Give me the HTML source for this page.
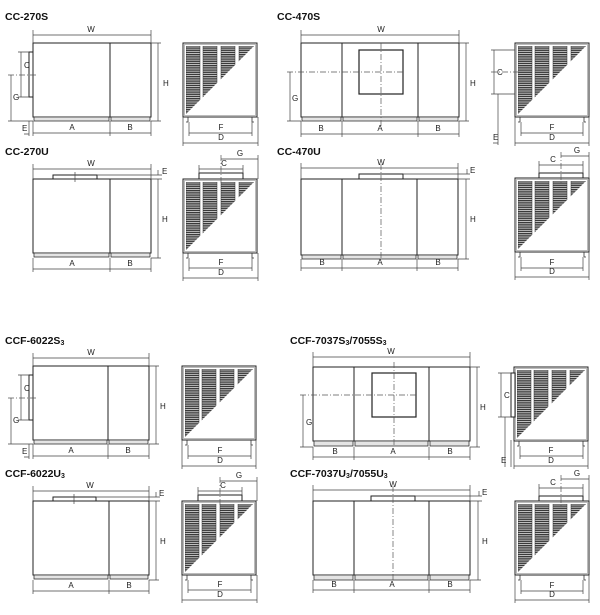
<!DOCTYPE html>
<html><head><meta charset="utf-8"><style>
html,body{margin:0;padding:0;background:#fff;}
svg{display:block;}
text{font-family:"Liberation Sans",sans-serif;font-size:8px;fill:#222;}
.t{font-size:10.5px;font-weight:bold;fill:#111;}
.b{fill:#fff;stroke:#222;stroke-width:1;}
.s{fill:#e4e4e4;stroke:#333;stroke-width:0.8;}
.d{stroke:#444;stroke-width:0.7;fill:none;}
.c{stroke:#555;stroke-width:0.7;fill:none;stroke-dasharray:6,2,1,2;}
</style></head><body>
<svg width="600" height="615" viewBox="0 0 600 615" xmlns="http://www.w3.org/2000/svg">
<defs>
<clipPath id="tri"><polygon points="3,71 3,3 71,3"/></clipPath>
<pattern id="lv" width="4" height="2.2" patternUnits="userSpaceOnUse"><rect width="4" height="2.2" fill="#ddd"/><rect width="4" height="1.4" fill="#3a3a3a"/></pattern>
<g id="side">
<rect x="0" y="0" width="74" height="74" fill="#fff" stroke="#222" stroke-width="1"/>
<rect x="1.5" y="1.5" width="71" height="71" fill="none" stroke="#bbb" stroke-width="1"/>
<g clip-path="url(#tri)">
<rect x="3" y="3" width="14" height="68" fill="url(#lv)" stroke="#333" stroke-width="0.5"/>
<rect x="20" y="3" width="14" height="68" fill="url(#lv)" stroke="#333" stroke-width="0.5"/>
<rect x="38" y="3" width="14" height="68" fill="url(#lv)" stroke="#333" stroke-width="0.5"/>
<rect x="56" y="3" width="15" height="68" fill="url(#lv)" stroke="#333" stroke-width="0.5"/>
</g>
<path d="M5,74 V79 M69,74 V79 M5,79 H3 M69,79 H71" stroke="#333" stroke-width="0.8" fill="none"/>
</g>
</defs>

<!-- ===== CC-270S ===== -->
<g id="d270s">
<text class="t" x="5" y="20">CC-270S</text>
<rect class="b" x="33" y="43" width="118" height="74"/>
<line class="d" x1="110" y1="43" x2="110" y2="117" style="stroke:#222;stroke-width:1"/>
<rect class="s" x="34" y="117" width="75" height="4"/><rect class="s" x="111" y="117" width="39" height="4"/>
<rect class="b" x="29" y="52" width="4" height="45"/>
<path class="d" d="M33,35 H151 M33,30 V43 M151,30 V43"/>
<text x="91" y="32" text-anchor="middle">W</text>
<path class="d" d="M151,43 H161 M151,121 H161 M158,43 V121"/>
<text x="163" y="86">H</text>
<path class="d" d="M18,52 H29 M18,97 H29 M21,52 V97"/>
<text x="24" y="68">C</text>
<path class="c" d="M8,75 H37"/>
<path class="d" d="M11,75 V121 M8,121 H33"/>
<text x="13" y="100">G</text>
<path class="d" d="M29,121 V136 M33,121 V136 M24,134 H29"/>
<text x="22" y="131">E</text>
<path class="d" d="M33,133 H151 M110,121 V136 M151,121 V136"/>
<text x="72" y="130" text-anchor="middle">A</text><text x="130" y="130" text-anchor="middle">B</text>
<use href="#side" x="183" y="43"/>
<path class="d" d="M189,122 V136 M252,122 V136 M189,133 H252 M183,117 V146 M258,117 V146 M183,143 H258"/>
<text x="221" y="130" text-anchor="middle">F</text><text x="221" y="140" text-anchor="middle">D</text>
</g>

<!-- ===== CC-270U ===== -->
<g id="d270u">
<text class="t" x="5" y="155">CC-270U</text>
<rect class="b" x="33" y="179" width="118" height="74"/>
<line x1="110" y1="179" x2="110" y2="253" stroke="#222" stroke-width="1"/>
<rect class="s" x="34" y="253" width="75" height="4"/><rect class="s" x="111" y="253" width="39" height="4"/>
<rect class="b" x="53" y="175" width="44" height="4"/>
<path class="d" d="M75,172 V182"/>
<path class="d" d="M33,169 H151 M33,164 V179 M151,164 V179"/>
<text x="91" y="166" text-anchor="middle">W</text>
<path class="d" d="M97,175 H162 M151,179 H162 M158,170 V175"/>
<text x="162" y="174">E</text>
<path class="d" d="M158,179 V258 M151,258 H161"/>
<text x="162" y="222">H</text>
<path class="d" d="M33,269 H151 M33,258 V272 M110,258 V272 M151,258 V272"/>
<text x="72" y="266" text-anchor="middle">A</text><text x="130" y="266" text-anchor="middle">B</text>
<use href="#side" x="183" y="179"/>
<rect class="b" x="199" y="173" width="44" height="6"/>
<path class="d" d="M199,169 H243 M199,165 V173 M243,165 V173 M221,159 H258 M258,155 V179"/>
<path class="c" d="M221,155 V185"/>
<text x="224" y="166" text-anchor="middle">C</text><text x="240" y="156" text-anchor="middle">G</text>
<path class="d" d="M189,258 V271 M252,258 V271 M189,268 H252 M183,253 V281 M258,253 V281 M183,278 H258"/>
<text x="221" y="265" text-anchor="middle">F</text><text x="221" y="275" text-anchor="middle">D</text>
</g>

<!-- ===== CC-470S ===== -->
<g>
<text class="t" x="277" y="20">CC-470S</text>
<rect class="b" x="301" y="43" width="158" height="74"/>
<path d="M342,43 V117 M418,43 V117" stroke="#222" stroke-width="1"/>
<rect class="s" x="302" y="117" width="39" height="4"/><rect class="s" x="343" y="117" width="74" height="4"/><rect class="s" x="419" y="117" width="39" height="4"/>
<rect x="359" y="50" width="44" height="44" fill="none" stroke="#222" stroke-width="1.2"/>
<path class="c" d="M381,43 V128 M287,72 H405"/>
<path class="d" d="M301,35 H459 M301,30 V43 M459,30 V43"/>
<text x="381" y="32" text-anchor="middle">W</text>
<path class="d" d="M459,43 H469 M459,121 H469 M466,43 V121"/>
<text x="470" y="86">H</text>
<path class="d" d="M290,72 V121 M287,121 H301"/>
<text x="292" y="101">G</text>
<path class="d" d="M301,134 H459 M301,121 V137 M342,121 V137 M418,121 V137 M459,121 V137"/>
<text x="321" y="131" text-anchor="middle">B</text><text x="380" y="131" text-anchor="middle">A</text><text x="438" y="131" text-anchor="middle">B</text>
<use href="#side" x="515" y="43"/>
<path class="d" d="M491,50 H515 M491,94 H515 M494,50 V94 M498,94 V145 M493,143 H498"/>
<path class="c" d="M491,72 H520"/>
<text x="497" y="75">C</text><text x="493" y="140">E</text>
<path class="d" d="M521,122 V136 M583,122 V136 M521,133 H583 M515,117 V146 M589,117 V146 M515,143 H589"/>
<text x="552" y="130" text-anchor="middle">F</text><text x="552" y="140" text-anchor="middle">D</text>
</g>

<!-- ===== CC-470U ===== -->
<g id="d470u">
<text class="t" x="277" y="155">CC-470U</text>
<g id="f470u">
<rect class="b" x="301" y="179" width="157" height="76"/>
<path d="M342,179 V255 M417,179 V255" stroke="#222" stroke-width="1"/>
<rect class="s" x="302" y="255" width="39" height="4"/><rect class="s" x="343" y="255" width="73" height="4"/><rect class="s" x="418" y="255" width="39" height="4"/>
<rect class="b" x="359" y="174" width="44" height="5"/>
<path class="c" d="M381,164 V259"/>
<path class="d" d="M301,168 H458 M301,163 V179 M458,163 V179"/>
<text x="381" y="165" text-anchor="middle">W</text>
<path class="d" d="M403,174 H470 M458,179 H470 M467,169 V174"/>
<text x="470" y="173">E</text>
<path class="d" d="M466,179 V259 M458,259 H469"/>
<text x="470" y="222">H</text>
<path class="d" d="M301,268 H458 M301,259 V271 M342,259 V271 M417,259 V271 M458,259 V271"/>
<text x="322" y="265" text-anchor="middle">B</text><text x="380" y="265" text-anchor="middle">A</text><text x="438" y="265" text-anchor="middle">B</text>
</g>
<g id="s470u">
<use href="#side" x="515" y="178"/>
<rect class="b" x="539" y="173" width="44" height="5"/>
<path class="d" d="M539,165 H583 M539,161 V173 M583,161 V173 M561,156 H589 M589,152 V178"/>
<path class="c" d="M561,152 V185"/>
<text x="553" y="162" text-anchor="middle">C</text><text x="577" y="153" text-anchor="middle">G</text>
<path class="d" d="M521,257 V271 M583,257 V271 M521,268 H583 M515,252 V280 M589,252 V280 M515,277 H589"/>
<text x="552" y="265" text-anchor="middle">F</text><text x="552" y="274" text-anchor="middle">D</text>
</g>
</g>

<!-- ===== CCF-6022S3 ===== -->
<g transform="translate(0,323)">
<text class="t" x="5" y="21">CCF-6022S<tspan font-size="7" dy="1">3</tspan></text>
<rect class="b" x="33" y="43" width="116" height="74"/>
<line x1="108" y1="43" x2="108" y2="117" stroke="#222" stroke-width="1"/>
<rect class="s" x="34" y="117" width="73" height="4"/><rect class="s" x="109" y="117" width="39" height="4"/>
<rect class="b" x="29" y="52" width="4" height="45"/>
<path class="d" d="M33,35 H149 M33,30 V43 M149,30 V43"/>
<text x="91" y="32" text-anchor="middle">W</text>
<path class="d" d="M149,43 H159 M149,121 H159 M156,43 V121"/>
<text x="160" y="86">H</text>
<path class="d" d="M18,52 H29 M18,97 H29 M21,52 V97"/>
<text x="24" y="68">C</text>
<path class="c" d="M8,75 H37"/>
<path class="d" d="M11,75 V121 M8,121 H33"/>
<text x="13" y="100">G</text>
<path class="d" d="M29,121 V136 M33,121 V136 M24,134 H29"/>
<text x="22" y="131">E</text>
<path class="d" d="M33,133 H149 M108,121 V136 M149,121 V136"/>
<text x="71" y="130" text-anchor="middle">A</text><text x="128" y="130" text-anchor="middle">B</text>
<use href="#side" x="182" y="43"/>
<path class="d" d="M188,122 V136 M251,122 V136 M188,133 H251 M182,117 V146 M256,117 V146 M182,143 H256"/>
<text x="220" y="130" text-anchor="middle">F</text><text x="220" y="140" text-anchor="middle">D</text>
</g>

<!-- ===== CCF-6022U3 ===== -->
<g transform="translate(-1,322)">
<text class="t" x="6" y="155">CCF-6022U<tspan font-size="7" dy="1">3</tspan></text>
<rect class="b" x="34" y="179" width="116" height="74"/>
<line x1="110" y1="179" x2="110" y2="253" stroke="#222" stroke-width="1"/>
<rect class="s" x="35" y="253" width="74" height="4"/><rect class="s" x="111" y="253" width="38" height="4"/>
<rect class="b" x="54" y="175" width="43" height="4"/>
<path class="d" d="M75,172 V182"/>
<path class="d" d="M34,169 H150 M34,164 V179 M150,164 V179"/>
<text x="91" y="166" text-anchor="middle">W</text>
<path class="d" d="M97,175 H161 M150,179 H161 M157,170 V175"/>
<text x="160" y="174">E</text>
<path class="d" d="M157,179 V258 M150,258 H160"/>
<text x="161" y="222">H</text>
<path class="d" d="M34,269 H150 M34,258 V272 M110,258 V272 M150,258 V272"/>
<text x="72" y="266" text-anchor="middle">A</text><text x="130" y="266" text-anchor="middle">B</text>
<use href="#side" x="183" y="179"/>
<rect class="b" x="199" y="173" width="44" height="6"/>
<path class="d" d="M199,169 H243 M199,165 V173 M243,165 V173 M221,159 H258 M258,155 V179"/>
<path class="c" d="M221,155 V185"/>
<text x="224" y="166" text-anchor="middle">C</text><text x="240" y="156" text-anchor="middle">G</text>
<path class="d" d="M189,258 V271 M252,258 V271 M189,268 H252 M183,253 V281 M258,253 V281 M183,278 H258"/>
<text x="221" y="265" text-anchor="middle">F</text><text x="221" y="275" text-anchor="middle">D</text>
</g>

<!-- ===== CCF-7037S3/7055S3 ===== -->
<g>
<text class="t" x="290" y="344">CCF-7037S<tspan font-size="7" dy="1">3</tspan><tspan dy="-1">/7055S</tspan><tspan font-size="7" dy="1">3</tspan></text>
<rect class="b" x="313" y="367" width="157" height="74"/>
<path d="M354,367 V441 M429,367 V441" stroke="#222" stroke-width="1"/>
<rect class="s" x="314" y="441" width="39" height="5"/><rect class="s" x="355" y="441" width="73" height="5"/><rect class="s" x="430" y="441" width="39" height="5"/>
<rect x="372" y="373" width="44" height="44" fill="none" stroke="#222" stroke-width="1.2"/>
<path class="c" d="M394,362 V447 M300,395 H418"/>
<path class="d" d="M313,357 H470 M313,352 V367 M470,352 V367"/>
<text x="391" y="354" text-anchor="middle">W</text>
<path class="d" d="M470,367 H480 M470,447 H480 M477,367 V447"/>
<text x="480" y="410">H</text>
<path class="d" d="M303,395 V447 M300,447 H313"/>
<text x="306" y="425">G</text>
<path class="d" d="M313,457 H470 M313,447 V460 M354,447 V460 M429,447 V460 M470,447 V460"/>
<text x="335" y="454" text-anchor="middle">B</text><text x="393" y="454" text-anchor="middle">A</text><text x="450" y="454" text-anchor="middle">B</text>
<use href="#side" x="514" y="367"/>
<rect class="b" x="511" y="373" width="4" height="44"/>
<path class="d" d="M498,373 H511 M498,417 H511 M501,373 V417 M505,417 V467 M511,440 V467"/>
<text x="504" y="398">C</text><text x="501" y="463">E</text>
<path class="d" d="M520,446 V459 M583,446 V459 M520,456 H583 M514,441 V469 M588,441 V469 M514,466 H588"/>
<text x="551" y="453" text-anchor="middle">F</text><text x="551" y="463" text-anchor="middle">D</text>
</g>

<!-- ===== CCF-7037U3/7055U3 ===== -->
<text class="t" x="290" y="477">CCF-7037U<tspan font-size="7" dy="1">3</tspan><tspan dy="-1">/7055U</tspan><tspan font-size="7" dy="1">3</tspan></text>
<g transform="translate(12,322)">
<rect class="b" x="301" y="179" width="157" height="74"/>
<path d="M342,179 V253 M417,179 V253" stroke="#222" stroke-width="1"/>
<rect class="s" x="302" y="253" width="39" height="5"/><rect class="s" x="343" y="253" width="73" height="5"/><rect class="s" x="418" y="253" width="39" height="5"/>
<rect class="b" x="359" y="174" width="44" height="5"/>
<path class="c" d="M381,164 V258"/>
<path class="d" d="M301,168 H458 M301,163 V179 M458,163 V179"/>
<text x="381" y="165" text-anchor="middle">W</text>
<path class="d" d="M403,174 H470 M458,179 H470 M467,169 V174"/>
<text x="470" y="173">E</text>
<path class="d" d="M466,179 V258 M458,258 H469"/>
<text x="470" y="222">H</text>
<path class="d" d="M301,268 H458 M301,258 V271 M342,258 V271 M417,258 V271 M458,258 V271"/>
<text x="322" y="265" text-anchor="middle">B</text><text x="380" y="265" text-anchor="middle">A</text><text x="438" y="265" text-anchor="middle">B</text>
</g>
<g transform="translate(0,323)">
<use href="#side" x="515" y="178"/>
<rect class="b" x="539" y="173" width="44" height="5"/>
<path class="d" d="M539,165 H583 M539,161 V173 M583,161 V173 M561,156 H589 M589,152 V178"/>
<path class="c" d="M561,152 V185"/>
<text x="553" y="162" text-anchor="middle">C</text><text x="577" y="153" text-anchor="middle">G</text>
<path class="d" d="M521,257 V271 M583,257 V271 M521,268 H583 M515,252 V280 M589,252 V280 M515,277 H589"/>
<text x="552" y="265" text-anchor="middle">F</text><text x="552" y="274" text-anchor="middle">D</text>
</g>
</svg>
</body></html>
